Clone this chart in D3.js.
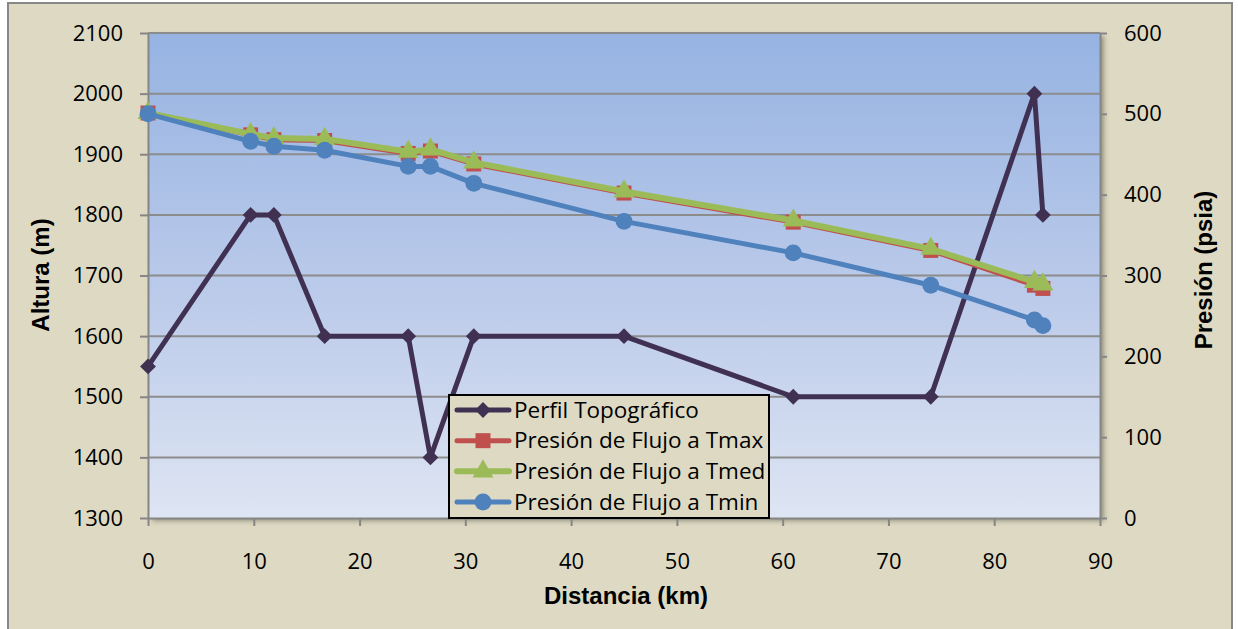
<!DOCTYPE html>
<html>
<head>
<meta charset="utf-8">
<script src="https://cdn.jsdelivr.net/npm/d3@7"></script>
<style>
  html, body { margin: 0; padding: 0; background: #ffffff; }
  svg { display: block; }
</style>
</head>
<body>
<div id="chart"></div>
<script>
// Distance along the pipeline (km), shared by every series
const distancia = [0, 9.7, 11.9, 16.7, 24.6, 26.7, 30.8, 45, 61, 74, 83.8, 84.6];
// Terrain elevation (m) – primary axis
const perfil = [1550, 1800, 1800, 1600, 1600, 1400, 1600, 1600, 1500, 1500, 2000, 1800];
// Flowing pressure (psia) – secondary axis
const presionTmax = [501, 474, 468, 467, 451, 454, 438, 402, 366, 331, 288, 284];
const presionTmed = [501, 475, 470, 469, 453, 456, 440, 404, 368, 333, 292, 289];
const presionTmin = [500, 466, 460, 455, 435, 435, 414, 367, 328, 288, 245, 238];

const xTicks = [0, 10, 20, 30, 40, 50, 60, 70, 80, 90];
const alturaTicks = [1300, 1400, 1500, 1600, 1700, 1800, 1900, 2000, 2100];
const presionTicks = [0, 100, 200, 300, 400, 500, 600];

const seriesNames = ["Perfil Topográfico", "Presión de Flujo a Tmax", "Presión de Flujo a Tmed", "Presión de Flujo a Tmin"];
const xTitle = "Distancia (km)";
const yTitle = "Altura (m)";
const y2Title = "Presión (psia)";

const W = 1238, H = 629;
const plot = { left: 148, right: 1100, top: 33, bottom: 518 };

const svg = d3.select("#chart").append("svg")
  .attr("width", W).attr("height", H);

const defs = svg.append("defs");
const grad = defs.append("linearGradient")
  .attr("id", "plotFill").attr("x1", 0).attr("y1", 0).attr("x2", 0).attr("y2", 1);
grad.append("stop").attr("offset", "0%").attr("stop-color", "#96b3e2");
grad.append("stop").attr("offset", "55%").attr("stop-color", "#bccbea");
grad.append("stop").attr("offset", "100%").attr("stop-color", "#dee5f3");

const shadow = defs.append("filter").attr("id", "plotShadow")
  .attr("x", "-5%").attr("y", "-5%").attr("width", "110%").attr("height", "110%");
shadow.append("feDropShadow").attr("dx", 4).attr("dy", 3)
  .attr("stdDeviation", 2.5).attr("flood-color", "#5a5a4a").attr("flood-opacity", 0.55);

// Chart area
svg.append("rect")
  .attr("x", 8).attr("y", 3).attr("width", 1224).attr("height", 640)
  .attr("fill", "#ddd9c3").attr("stroke", "#878787").attr("stroke-width", 2);

// Scales
const x = d3.scaleLinear().domain([0, 90]).range([plot.left, plot.right]);
const y = d3.scaleLinear().domain([1300, 2100]).range([plot.bottom, plot.top]);
const y2 = d3.scaleLinear().domain([0, 600]).range([plot.bottom, plot.top]);

// Plot area
svg.append("rect")
  .attr("x", plot.left).attr("y", plot.top)
  .attr("width", plot.right - plot.left).attr("height", plot.bottom - plot.top)
  .attr("fill", "url(#plotFill)")
  .attr("filter", "url(#plotShadow)");

// Horizontal gridlines
svg.append("g").selectAll("line")
  .data(alturaTicks.filter(d => d > 1300))
  .join("line")
  .attr("x1", plot.left).attr("x2", plot.right)
  .attr("y1", d => y(d)).attr("y2", d => y(d))
  .attr("stroke", "#8c8c8c").attr("stroke-width", 2);

const tickFont = "'Open Sans', 'DejaVu Sans', sans-serif";

function styleAxis(g) {
  g.select(".domain").attr("stroke", "#868686").attr("stroke-width", 2);
  g.selectAll(".tick line").attr("stroke", "#868686").attr("stroke-width", 2);
  g.selectAll(".tick text")
    .attr("fill", "#000").style("font-family", tickFont).style("font-size", "22px");
}

svg.append("g")
  .attr("transform", `translate(${plot.left},0)`)
  .call(d3.axisLeft(y).tickValues(alturaTicks).tickSize(8).tickSizeOuter(0).tickPadding(17).tickFormat(d3.format("d")))
  .call(styleAxis);

svg.append("g")
  .attr("transform", `translate(${plot.right},0)`)
  .call(d3.axisRight(y2).tickValues(presionTicks).tickSize(7).tickSizeOuter(0).tickPadding(17).tickFormat(d3.format("d")))
  .call(styleAxis);

svg.append("g")
  .attr("transform", `translate(0,${plot.bottom})`)
  .call(d3.axisBottom(x).tickValues(xTicks).tickSize(8).tickSizeOuter(0).tickPadding(27).tickFormat(d3.format("d")))
  .call(styleAxis);

// Axis titles
const titleFont = "'Liberation Sans', Arial, sans-serif";
svg.append("text")
  .attr("x", 626).attr("y", 604)
  .attr("text-anchor", "middle")
  .style("font-family", titleFont).style("font-weight", "bold").style("font-size", "24px")
  .text(xTitle);
svg.append("text")
  .attr("transform", "translate(49,275) rotate(-90)")
  .attr("text-anchor", "middle")
  .style("font-family", titleFont).style("font-weight", "bold").style("font-size", "24px")
  .text(yTitle);
svg.append("text")
  .attr("transform", "translate(1212,270) rotate(-90)")
  .attr("text-anchor", "middle")
  .style("font-family", titleFont).style("font-weight", "bold").style("font-size", "24px")
  .text(y2Title);

// Series definitions
const series = [
  { name: seriesNames[0], values: perfil, scale: y, color: "#403152", width: 5,
    symbol: d3.symbolSquare, size: 125, rotate: 45 },
  { name: seriesNames[1], values: presionTmax, scale: y2, color: "#c0504d", width: 5,
    symbol: d3.symbolSquare, size: 225, rotate: 0 },
  { name: seriesNames[2], values: presionTmed, scale: y2, color: "#9bbb59", width: 6,
    symbol: d3.symbolTriangle, size: 190, rotate: 0 },
  { name: seriesNames[3], values: presionTmin, scale: y2, color: "#4f81bd", width: 5,
    symbol: d3.symbolCircle, size: 225, rotate: 0 }
];

series.forEach(s => {
  const pts = distancia.map((d, i) => [d, s.values[i]]);
  const line = d3.line().x(p => x(p[0])).y(p => s.scale(p[1]));
  const g = svg.append("g");
  g.append("path")
    .attr("d", line(pts))
    .attr("fill", "none").attr("stroke", s.color)
    .attr("stroke-width", s.width).attr("stroke-linejoin", "round").attr("stroke-linecap", "round");
  const sym = d3.symbol().type(s.symbol).size(s.size);
  g.selectAll("path.m").data(pts).join("path")
    .attr("class", "m")
    .attr("d", sym)
    .attr("transform", p => `translate(${x(p[0])},${s.scale(p[1])}) rotate(${s.rotate})`)
    .attr("fill", s.color);
});

// Legend
const legend = svg.append("g");
legend.append("rect")
  .attr("x", 449).attr("y", 395).attr("width", 320).attr("height", 123)
  .attr("fill", "#ddd9c3").attr("stroke", "#000").attr("stroke-width", 2);
const rowY = d3.scalePoint().domain(seriesNames).range([410, 502]);
series.forEach(s => {
  const cy = rowY(s.name);
  legend.append("line")
    .attr("x1", 457).attr("x2", 509).attr("y1", cy).attr("y2", cy)
    .attr("stroke", s.color).attr("stroke-width", s.width).attr("stroke-linecap", "round");
  legend.append("path")
    .attr("d", d3.symbol().type(s.symbol).size(s.size)())
    .attr("transform", `translate(483,${cy}) rotate(${s.rotate})`)
    .attr("fill", s.color);
  legend.append("text")
    .attr("x", 514).attr("y", cy + 7.5)
    .style("font-family", tickFont).style("font-size", "22.5px")
    .attr("fill", "#000")
    .text(s.name);
});
</script>
</body>
</html>
